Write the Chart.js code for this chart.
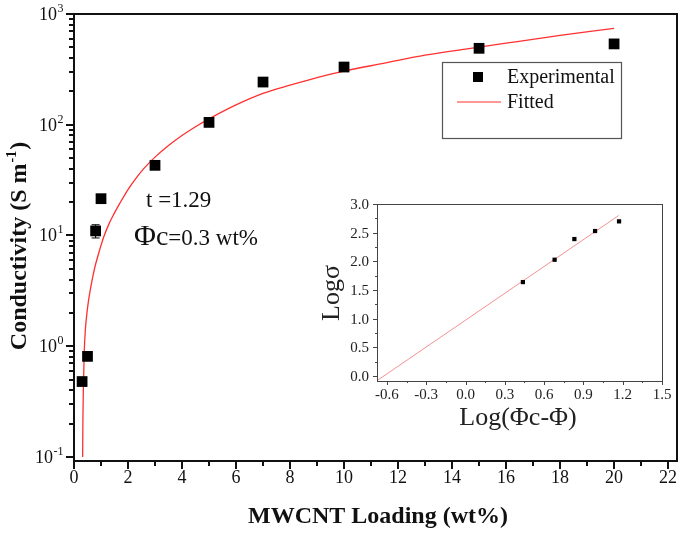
<!DOCTYPE html>
<html><head><meta charset="utf-8">
<script src="https://cdn.jsdelivr.net/npm/chart.js@4/dist/chart.umd.min.js"></script>
<style>
html,body{margin:0;padding:0;background:#fff;overflow:hidden;}
#wrap{position:relative;width:685px;height:539px;background:#fff;}
#mainBox{position:absolute;left:0;top:0;width:685px;height:539px;}
#insetBox{position:absolute;left:300px;top:190px;width:380px;height:250px;}
</style></head><body>
<div id="wrap">
<div id="mainBox"><canvas id="main" width="685" height="539"></canvas></div>
<div id="insetBox"><canvas id="inset" width="380" height="250"></canvas></div>
</div>
<script>
// ---------- DATA ----------
const loading = [0.3, 0.5, 0.8, 1, 3, 5, 7, 10, 15, 20];
const conductivity = [0.48, 0.81, 11, 21.5, 43, 105, 243, 332, 490, 537];
const condError = [0, 0, 1.5, 0, 0, 0, 0, 0, 0, 0];
const fitLoading = [0.32, 0.33, 0.35, 0.38, 0.42, 0.48, 0.55, 0.62, 0.70, 0.80, 0.95, 1.1, 1.3, 1.5, 1.7, 2.0, 2.3, 2.6, 3.0, 3.5, 4.0, 4.5, 5.0, 6.0, 7.0, 8.0, 9.0, 10, 11.5, 13, 14.5, 16, 18, 20];
const fitConductivity = [0.10, 0.22, 0.45, 0.90, 1.4, 2.0, 2.7, 3.4, 4.3, 5.5, 7.4, 9.7, 12.8, 16, 19.6, 26, 33, 40.6, 51, 65, 80, 96, 113, 151, 192, 228, 267, 305, 360, 425, 482, 545, 640, 743];
const xTickLabels = ['0','2','4','6','8','10','12','14','16','18','20','22'];
const yTickExponents = ['-1','0','1','2','3'];
const seriesNames = ['Experimental', 'Fitted'];
const annotT = 't =1.29';
const annotPhi = ['\u03A6c', '=0.3 wt%'];

const insetLogPhi = [0.438, 0.680, 0.831, 0.989, 1.172];
const insetLogSigma = [1.637, 2.027, 2.388, 2.528, 2.697];
const insetFitX = [-0.68, 1.17];
const insetFitY = [-0.09, 2.80];
const insetXTickLabels = ['-0.6','-0.3','0.0','0.3','0.6','0.9','1.2','1.5'];
const insetYTickLabels = ['0.0','0.5','1.0','1.5','2.0','2.5','3.0'];

const SERIF = "'Liberation Serif','Times New Roman',serif";
const RED = '#ff3030';

// ---------- MAIN CHART ----------
const mainPlugin = {
  id: 'mainAxes',
  afterDraw(chart) {
    const ctx = chart.ctx, a = chart.chartArea;
    const xs = chart.scales.x, ys = chart.scales.y;
    ctx.save();
    // error bars
    ctx.strokeStyle = '#000'; ctx.lineWidth = 1;
    loading.forEach((v, i) => {
      if (!condError[i]) return;
      const px = xs.getPixelForValue(v);
      const p1 = ys.getPixelForValue(conductivity[i] + condError[i]);
      const p2 = ys.getPixelForValue(conductivity[i] - condError[i]);
      ctx.beginPath();
      ctx.moveTo(px, p1); ctx.lineTo(px, p2);
      ctx.moveTo(px - 4, p1); ctx.lineTo(px + 4, p1);
      ctx.moveTo(px - 4, p2); ctx.lineTo(px + 4, p2);
      ctx.stroke();
    });
    // frame
    ctx.strokeStyle = '#111'; ctx.lineWidth = 2;
    ctx.strokeRect(a.left, a.top, a.right - a.left, a.bottom - a.top);
    // ticks
    ctx.beginPath();
    xTickLabels.forEach((t, i) => {
      const v = parseFloat(t);
      const px = Math.round(xs.getPixelForValue(v));
      ctx.moveTo(px, a.bottom); ctx.lineTo(px, a.bottom + 8);
      if (i < xTickLabels.length - 1) {
        const pm = Math.round(xs.getPixelForValue(v + 1));
        ctx.moveTo(pm, a.bottom); ctx.lineTo(pm, a.bottom + 5);
      }
    });
    yTickExponents.forEach((e, i) => {
      const d = Math.pow(10, parseFloat(e));
      const py = Math.round(ys.getPixelForValue(d));
      ctx.moveTo(a.left, py); ctx.lineTo(a.left - 8, py);
      if (i < yTickExponents.length - 1) {
        for (let k = 2; k <= 9; k++) {
          const pm = Math.round(ys.getPixelForValue(d * k));
          ctx.moveTo(a.left, pm); ctx.lineTo(a.left - 5, pm);
        }
      }
    });
    ctx.stroke();
    // x tick labels
    ctx.fillStyle = '#111';
    ctx.font = '18px ' + SERIF;
    ctx.textAlign = 'center'; ctx.textBaseline = 'alphabetic';
    xTickLabels.forEach(t => {
      ctx.fillText(t, xs.getPixelForValue(parseFloat(t)), a.bottom + 22);
    });
    // y tick labels 10^n
    yTickExponents.forEach(e => {
      const py = ys.getPixelForValue(Math.pow(10, parseFloat(e)));
      ctx.font = '18px ' + SERIF;
      const wb = ctx.measureText('10').width;
      ctx.font = '12px ' + SERIF;
      const we = ctx.measureText(e).width;
      const x0 = a.left - 11 - wb - we;
      ctx.textAlign = 'left';
      ctx.font = '18px ' + SERIF;
      ctx.fillText('10', x0, py + 6);
      ctx.font = '12px ' + SERIF;
      ctx.fillText(e, x0 + wb + 0.5, py - 2);
    });
    // x title
    ctx.font = 'bold 24px ' + SERIF;
    ctx.textAlign = 'center';
    ctx.fillText('MWCNT Loading (wt%)', 378, 523);
    // y title (rotated)
    ctx.save();
    ctx.translate(26, 247);
    ctx.rotate(-Math.PI / 2);
    const p1 = 'Conductivity (S m', p2 = '-1', p3 = ')';
    ctx.font = 'bold 24px ' + SERIF;
    const w1 = ctx.measureText(p1).width, w3 = ctx.measureText(p3).width;
    ctx.font = 'bold 14px ' + SERIF;
    const w2 = ctx.measureText(p2).width;
    let sx = -(w1 + w2 + w3) / 2;
    ctx.textAlign = 'left';
    ctx.font = 'bold 24px ' + SERIF; ctx.fillText(p1, sx, 0);
    ctx.font = 'bold 14px ' + SERIF; ctx.fillText(p2, sx + w1 + 1, -10);
    ctx.font = 'bold 24px ' + SERIF; ctx.fillText(p3, sx + w1 + w2 + 2, 0);
    ctx.restore();
    // annotations
    ctx.textAlign = 'left';
    ctx.font = '23px ' + SERIF;
    ctx.fillText(annotT, 146, 207);
    ctx.font = '30px ' + SERIF;
    ctx.fillText(annotPhi[0].charAt(0), 134, 245);
    const wphi = ctx.measureText(annotPhi[0].charAt(0)).width;
    ctx.font = '28px ' + SERIF;
    ctx.fillText(annotPhi[0].charAt(1), 134 + wphi, 245);
    const wc = ctx.measureText(annotPhi[0].charAt(1)).width;
    ctx.font = '23px ' + SERIF;
    ctx.fillText(annotPhi[1], 134 + wphi + wc, 245);
    // legend
    ctx.strokeStyle = '#555'; ctx.lineWidth = 1.2;
    ctx.strokeRect(442.5, 62.5, 179, 76);
    ctx.fillStyle = '#000';
    ctx.fillRect(473, 72, 10, 10);
    ctx.strokeStyle = RED; ctx.lineWidth = 1.2;
    ctx.beginPath(); ctx.moveTo(457, 102); ctx.lineTo(501, 102); ctx.stroke();
    ctx.fillStyle = '#111';
    ctx.font = '20px ' + SERIF;
    ctx.textBaseline = 'middle';
    ctx.fillText(seriesNames[0], 507, 78);
    ctx.fillText(seriesNames[1], 507, 103);
    ctx.restore();
  }
};

new Chart(document.getElementById('main'), {
  type: 'scatter',
  data: {
    datasets: [
      {
        label: seriesNames[0],
        data: loading.map((x, i) => ({ x, y: conductivity[i] })),
        pointStyle: 'rect', pointRadius: 7.6, pointBorderWidth: 0,
        backgroundColor: '#000', borderColor: '#000', order: 0
      },
      {
        type: 'line', label: seriesNames[1],
        data: fitLoading.map((x, i) => ({ x, y: fitConductivity[i] })),
        borderColor: RED, borderWidth: 1.3, pointRadius: 0, fill: false,
        cubicInterpolationMode: 'monotone', order: 1
      }
    ]
  },
  options: {
    responsive: false, animation: false, devicePixelRatio: 1,
    layout: { padding: { left: 74, top: 14, right: 8, bottom: 78 } },
    scales: {
      x: { type: 'linear', min: 0, max: 22.33, display: false },
      y: { type: 'logarithmic', min: 0.092, max: 1000, display: false }
    },
    plugins: { legend: { display: false }, tooltip: { enabled: false } }
  },
  plugins: [mainPlugin]
});

// ---------- INSET CHART ----------
const insetPlugin = {
  id: 'insetAxes',
  afterDraw(chart) {
    const ctx = chart.ctx, a = chart.chartArea;
    const xs = chart.scales.x, ys = chart.scales.y;
    ctx.save();
    ctx.strokeStyle = '#444'; ctx.lineWidth = 1;
    ctx.strokeRect(Math.round(a.left) + 0.5, Math.round(a.top) + 0.5, Math.round(a.right - a.left), Math.round(a.bottom - a.top));
    ctx.beginPath();
    insetXTickLabels.forEach((t, i) => {
      const v = parseFloat(t);
      const px = Math.round(xs.getPixelForValue(v)) + 0.5;
      ctx.moveTo(px, a.bottom); ctx.lineTo(px, a.bottom + 4);
      if (i < insetXTickLabels.length - 1) {
        const pm = Math.round(xs.getPixelForValue(v + 0.15)) + 0.5;
        ctx.moveTo(pm, a.bottom); ctx.lineTo(pm, a.bottom + 2);
      }
    });
    insetYTickLabels.forEach((t, i) => {
      const v = parseFloat(t);
      const py = Math.round(ys.getPixelForValue(v)) + 0.5;
      ctx.moveTo(a.left, py); ctx.lineTo(a.left - 4, py);
      if (i < insetYTickLabels.length - 1) {
        const pm = Math.round(ys.getPixelForValue(v + 0.25)) + 0.5;
        ctx.moveTo(a.left, pm); ctx.lineTo(a.left - 2, pm);
      }
    });
    ctx.stroke();
    ctx.fillStyle = '#222';
    ctx.font = '15px ' + SERIF;
    ctx.textAlign = 'center'; ctx.textBaseline = 'alphabetic';
    insetXTickLabels.forEach(t => ctx.fillText(t, xs.getPixelForValue(parseFloat(t)), a.bottom + 18));
    ctx.textAlign = 'right';
    insetYTickLabels.forEach(t => ctx.fillText(t, a.left - 8, ys.getPixelForValue(parseFloat(t)) + 5));
    ctx.font = '26px ' + SERIF;
    ctx.textAlign = 'center';
    ctx.fillText('Log(\u03A6c-\u03A6)', 218, 235);
    ctx.save();
    ctx.translate(39, 103);
    ctx.rotate(-Math.PI / 2);
    ctx.fillText('Log\u03C3', 0, 0);
    ctx.restore();
    ctx.restore();
  }
};

new Chart(document.getElementById('inset'), {
  type: 'scatter',
  data: {
    datasets: [
      {
        label: 'data',
        data: insetLogPhi.map((x, i) => ({ x, y: insetLogSigma[i] })),
        pointStyle: 'rect', pointRadius: 3, pointBorderWidth: 0,
        backgroundColor: '#000', borderColor: '#000', order: 0
      },
      {
        type: 'line', label: 'fit',
        data: insetFitX.map((x, i) => ({ x, y: insetFitY[i] })),
        borderColor: 'rgba(240,110,110,0.75)', borderWidth: 1, pointRadius: 0, fill: false, order: 1
      }
    ]
  },
  options: {
    responsive: false, animation: false, devicePixelRatio: 1,
    layout: { padding: { left: 77, top: 14, right: 18, bottom: 59 } },
    scales: {
      x: { type: 'linear', min: -0.676, max: 1.5, display: false },
      y: { type: 'linear', min: -0.09, max: 3.0, display: false }
    },
    plugins: { legend: { display: false }, tooltip: { enabled: false } }
  },
  plugins: [insetPlugin]
});
</script>
</body></html>
